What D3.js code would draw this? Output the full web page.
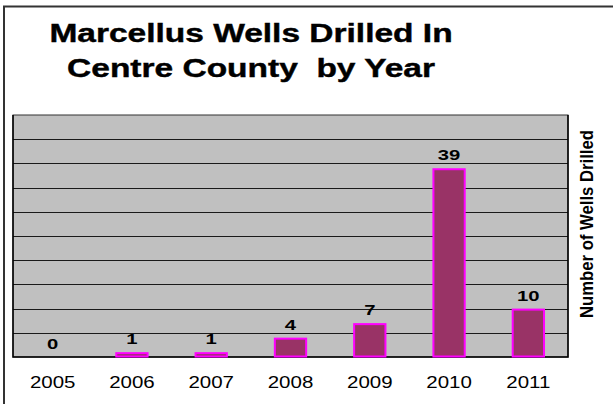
<!DOCTYPE html>
<html>
<head>
<meta charset="utf-8">
<script src="https://cdn.jsdelivr.net/npm/d3@7"></script>
<style>
  body { margin: 0; background: #fff; }
  svg { display: block; font-family: Arial, "Liberation Sans", sans-serif; }
</style>
</head>
<body>
<svg id="chart" width="613" height="404"></svg>
<script>
// data
const years = ["2005", "2006", "2007", "2008", "2009", "2010", "2011"];
const wells = [0, 1, 1, 4, 7, 39, 10];
const titleLines = ["Marcellus Wells Drilled In", "Centre County  by Year"];
const yLabel = "Number of Wells Drilled";

const data = years.map((y, i) => ({ year: y, value: wells[i] }));

const svg = d3.select("#chart");
const plot = { left: 13, right: 568, top: 115, bottom: 357 };

const x = d3.scaleBand()
  .domain(years)
  .range([plot.left, plot.right])
  .paddingInner(0.58)
  .paddingOuter(0.29);

const y = d3.scaleLinear().domain([0, 50]).range([plot.bottom, plot.top]);

// outer frame (only left and top visible)
svg.append("path")
  .attr("d", "M4,404 L4,6.5 L613,6.5")
  .attr("fill", "none")
  .attr("stroke", "#333")
  .attr("stroke-width", 2);

// stretched text helper (the picture is wider than tall)
function stretchedText(parent, cx, cy, sx, txt) {
  return parent.append("g")
    .attr("transform", `translate(${cx},${cy}) scale(${sx},1)`)
    .append("text")
    .attr("text-anchor", "middle")
    .text(txt);
}

// title
titleLines.forEach((t, i) => {
  stretchedText(svg, 251, 42 + i * 35, 1.34, t)
    .style("font-size", "25px")
    .style("font-weight", "bold")
    .style("white-space", "pre")
    .attr("stroke", "#000")
    .attr("stroke-width", 0.4)
    .attr("fill", "#000");
});

// plot background
svg.append("rect")
  .attr("x", plot.left)
  .attr("y", plot.top)
  .attr("width", plot.right - plot.left)
  .attr("height", plot.bottom - plot.top)
  .attr("fill", "#c0c0c0")
  .attr("stroke", "#333")
  .attr("stroke-width", 1);

// gridlines
svg.append("g")
  .selectAll("line")
  .data(y.ticks(10).filter((d) => d > 0 && d < 50))
  .join("line")
  .attr("x1", plot.left)
  .attr("x2", plot.right)
  .attr("y1", (d) => Math.round(y(d)) + 0.5)
  .attr("y2", (d) => Math.round(y(d)) + 0.5)
  .attr("stroke", "#1a1a1a")
  .attr("stroke-width", 1);

// left + bottom axis lines
svg.append("path")
  .attr("d", `M${plot.left},${plot.top} L${plot.left},${plot.bottom} L${plot.right},${plot.bottom} L${plot.right},${plot.top}`)
  .attr("fill", "none")
  .attr("stroke", "#000")
  .attr("stroke-width", 1.5);

// bars
svg.append("g")
  .selectAll("rect")
  .data(data.filter((d) => d.value > 0))
  .join("rect")
  .attr("x", (d) => x(d.year) + 1)
  .attr("y", (d) => y(d.value) + 1)
  .attr("width", x.bandwidth() - 2)
  .attr("height", (d) => y(0) - y(d.value) - 1.5)
  .attr("fill", "#993366")
  .attr("stroke", "#ff00ff")
  .attr("stroke-width", 2);

// value labels
data.forEach((d) => {
  stretchedText(svg, x(d.year) + x.bandwidth() / 2, y(d.value) - 8, 1.35, d.value)
    .style("font-size", "15px")
    .style("font-weight", "bold")
    .attr("fill", "#000");
});

// x labels
years.forEach((yr) => {
  stretchedText(svg, x(yr) + x.bandwidth() / 2, 388, 1.28, yr)
    .style("font-size", "16px")
    .attr("fill", "#000");
});

// right y label
svg.append("text")
  .attr("transform", `translate(593,224) rotate(-90) scale(1,1.3)`)
  .attr("text-anchor", "middle")
  .attr("textLength", 188)
  .attr("lengthAdjust", "spacingAndGlyphs")
  .style("font-size", "14px")
  .style("font-weight", "bold")
  .text(yLabel);
</script>
</body>
</html>
